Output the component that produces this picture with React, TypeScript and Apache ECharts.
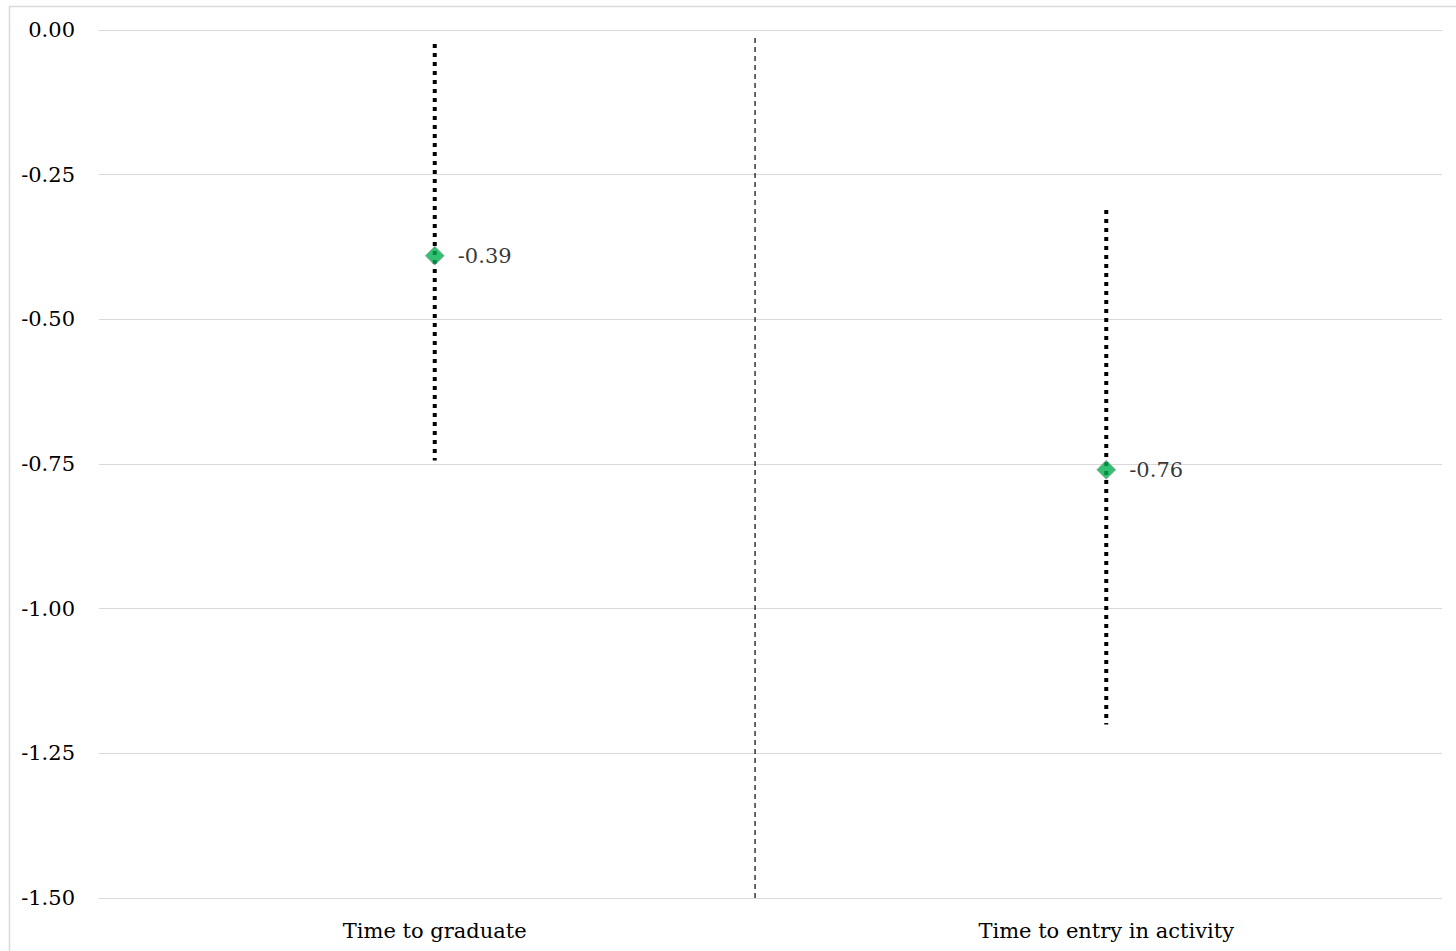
import React, { useEffect, useRef } from "react";
import * as echarts from "echarts";

const categories = ["Time to graduate", "Time to entry in activity"];
const estimates = [-0.39, -0.76];
const ciUpper = [-0.024, -0.311];
const ciLower = [-0.744, -1.2];
const dividerX = 0.977;
const dividerTop = -0.014;
const dividerBottom = -1.5;
const yTicks = { min: -1.5, max: 0, interval: 0.25 };

const FONT = "DejaVu Serif";
const FS = 21;

export default function App() {
  const ref = useRef<HTMLDivElement>(null);
  useEffect(() => {
    document.body.style.margin = "0";
    const chart = echarts.init(ref.current!, undefined, { renderer: "svg" });
    chart.setOption({
      animation: false,
      backgroundColor: "#ffffff",
      graphic: [
        {
          type: "rect",
          shape: { x: 9.5, y: 6.5, width: 1470, height: 970 },
          style: { fill: "none", stroke: "#d9d9d9", lineWidth: 1.5 },
          silent: true,
          z: -10,
        },
      ],
      grid: { left: 99, right: 14, top: 30, bottom: 53, containLabel: false },
      xAxis: [
        {
          type: "category",
          data: categories,
          boundaryGap: true,
          axisLine: { show: true, lineStyle: { color: "#d9d9d9", width: 1 } },
          axisTick: { show: false },
          axisLabel: { color: "#000", fontFamily: FONT, fontSize: FS, margin: 22 },
          splitLine: { show: false },
        },
        {
          type: "value",
          min: 0,
          max: 2,
          show: false,
        },
      ],
      yAxis: {
        type: "value",
        min: yTicks.min,
        max: yTicks.max,
        interval: yTicks.interval,
        axisLine: { show: false },
        axisTick: { show: false },
        axisLabel: {
          color: "#000",
          fontFamily: FONT,
          fontSize: FS,
          margin: 24,
          formatter: (v: number) => v.toFixed(2),
        },
        splitLine: { lineStyle: { color: "#d9d9d9", width: 1 } },
      },
      series: [
        {
          type: "line",
          xAxisIndex: 1,
          data: [
            [dividerX, dividerTop],
            [dividerX, dividerBottom],
          ],
          symbol: "none",
          lineStyle: { color: "#000", width: 1.2, type: [5, 4] },
          silent: true,
          z: 1,
        },
        {
          type: "custom",
          xAxisIndex: 0,
          data: categories.map((c, i) => [i, ciUpper[i], ciLower[i]]),
          renderItem: (params: any, api: any) => {
            const x = api.value(0);
            const p1 = api.coord([x, api.value(1)]);
            const p2 = api.coord([x, api.value(2)]);
            return {
              type: "line",
              shape: { x1: p1[0], y1: p1[1], x2: p2[0], y2: p2[1] },
              style: { stroke: "#000", lineWidth: 4, lineDash: [4, 5], lineCap: "butt" },
            };
          },
          z: 2,
        },
        {
          type: "scatter",
          xAxisIndex: 0,
          data: estimates.map((v, i) => [i, v]),
          symbol: "diamond",
          symbolSize: [19, 19],
          itemStyle: { color: "#00B050", borderColor: "#a6a6a6", borderWidth: 1 },
          label: {
            show: true,
            position: "right",
            distance: 13,
            color: "#000",
            fontFamily: FONT,
            fontSize: FS,
            formatter: (p: any) => p.value[1].toFixed(2),
          },
          z: 3,
        },
      ],
    });
    return () => chart.dispose();
  }, []);
  return <div ref={ref} style={{ width: 1456, height: 951 }} />;
}
